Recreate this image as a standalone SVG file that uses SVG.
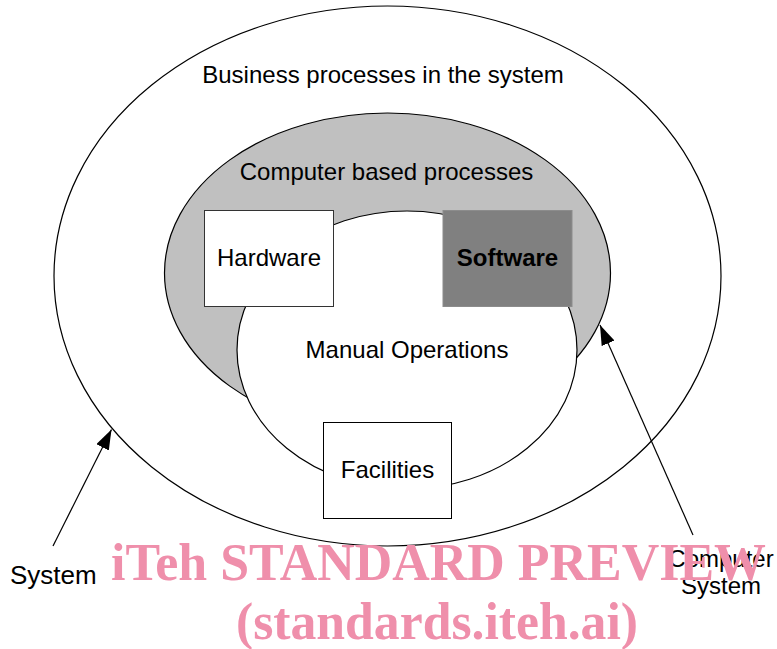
<svg xmlns="http://www.w3.org/2000/svg" width="777" height="649" viewBox="0 0 777 649">
<style>
.ln{stroke:#000;stroke-width:1.2;fill:none}
.t{font-family:"Liberation Sans",Arial,sans-serif;font-size:24px;fill:#000;text-anchor:middle}
.wm{font-family:"Liberation Serif","Times New Roman",serif;font-weight:bold;font-size:53px;fill:#ef8fab}
</style>
<defs>
<marker id="ah" viewBox="0 0 20 14" refX="20" refY="7" markerWidth="20" markerHeight="14" markerUnits="userSpaceOnUse" orient="auto">
<path d="M0,0 L20,7 L0,14 Z" fill="#000"/>
</marker>
</defs>
<g id="system">
<ellipse cx="387.5" cy="276" rx="333.5" ry="270" fill="#fff" stroke="#000" stroke-width="1.2"/>
<text class="t" x="383" y="83">Business processes in the system</text>
</g>
<g id="computer-system">
<ellipse cx="387.5" cy="273" rx="223" ry="160" fill="#c0c0c0" stroke="#000" stroke-width="1.2"/>
<text class="t" x="386.5" y="180">Computer based processes</text>
</g>
<g id="manual-operations">
<ellipse cx="407" cy="350" rx="170" ry="139" fill="#fff" stroke="#000" stroke-width="1.2"/>
<text class="t" x="407" y="358">Manual Operations</text>
</g>
<g id="hardware">
<rect x="204.5" y="210.5" width="129" height="96" fill="#fff" stroke="#333" stroke-width="1"/>
<text class="t" x="269" y="266">Hardware</text>
</g>
<g id="software">
<rect x="443" y="210.5" width="129" height="96" fill="#808080" stroke="#8c8c8c" stroke-width="1"/>
<text class="t" x="507.5" y="266" font-weight="bold">Software</text>
</g>
<g id="facilities">
<rect x="323.5" y="422.5" width="128" height="96" fill="#fff" stroke="#000" stroke-width="1"/>
<text class="t" x="387.5" y="478">Facilities</text>
</g>
<g id="connectors">
<line class="ln" x1="53" y1="546" x2="111.5" y2="429.5" marker-end="url(#ah)"/>
<line class="ln" x1="693" y1="535" x2="600" y2="325" marker-end="url(#ah)"/>
</g>
<g id="labels">
<text class="t" x="10" y="584" style="text-anchor:start;font-size:26px">System</text>
<text class="t" x="721" y="567">Computer</text>
<text class="t" x="721" y="594">System</text>
</g>
<g id="watermark">
<text class="wm" x="111" y="580" textLength="655" lengthAdjust="spacingAndGlyphs">iTeh STANDARD PREVIEW</text>
<text class="wm" x="236" y="639" textLength="402" lengthAdjust="spacingAndGlyphs">(standards.iteh.ai)</text>
</g>
</svg>
